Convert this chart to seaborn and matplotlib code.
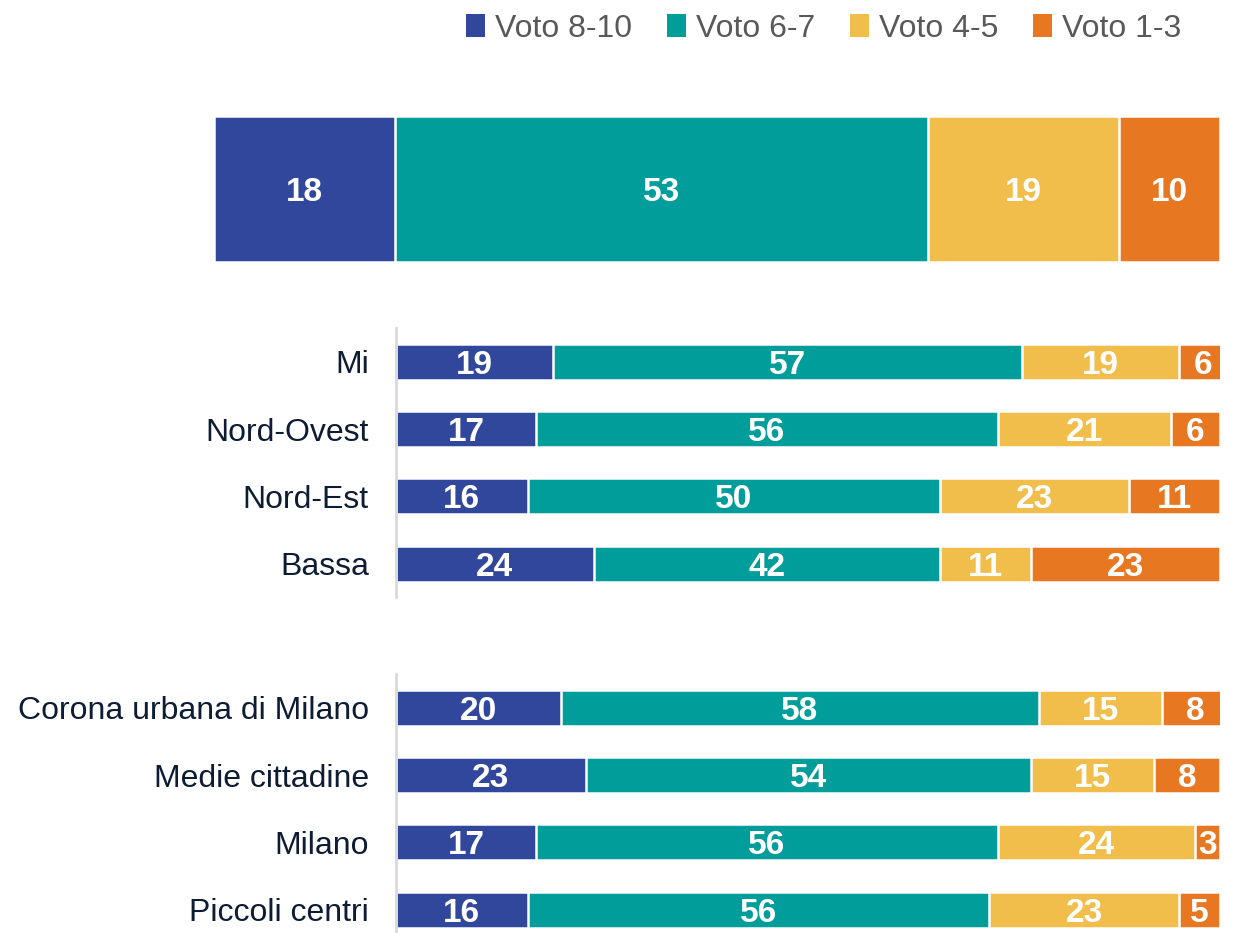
import matplotlib
matplotlib.use("Agg")
import matplotlib.pyplot as plt
import pandas as pd
import seaborn as sns
from matplotlib.patches import Patch

# Series and colours
series = ["Voto 8-10", "Voto 6-7", "Voto 4-5", "Voto 1-3"]
colors = ["#31479B", "#009D9A", "#F1BE4B", "#E87722"]

# Overall distribution
total_cats = ["Totale"]
total_8_10 = [18]
total_6_7 = [53]
total_4_5 = [19]
total_1_3 = [10]

# By area
area_cats = ["Mi", "Nord-Ovest", "Nord-Est", "Bassa"]
area_8_10 = [19, 17, 16, 24]
area_6_7 = [57, 56, 50, 42]
area_4_5 = [19, 21, 23, 11]
area_1_3 = [6, 6, 11, 23]

# By municipality size
size_cats = ["Corona urbana di Milano", "Medie cittadine", "Milano", "Piccoli centri"]
size_8_10 = [20, 23, 17, 16]
size_6_7 = [58, 54, 56, 56]
size_4_5 = [15, 15, 24, 23]
size_1_3 = [8, 8, 3, 5]

sns.set_style("white")
plt.rcParams["font.family"] = ["Liberation Sans", "DejaVu Sans"]

LABEL_COLOR = "#0D1B33"
FS = 23


def stacked(ax, cats, cols, width):
    df = pd.DataFrame(dict(zip(series, cols)), index=cats)
    cum = df.cumsum(axis=1)
    # draw cumulative totals from the longest to the shortest
    for i in reversed(range(len(series))):
        sns.barplot(x=cum.iloc[:, i].values, y=cats, order=cats, orient="h",
                    color=colors[i], saturation=1, width=width,
                    edgecolor="white", linewidth=1.8, ax=ax)
    for j, cat in enumerate(cats):
        for i in range(len(series)):
            v = df.iloc[j, i]
            c = cum.iloc[j, i] - v / 2
            ax.text(c, j, f"{v}", ha="center", va="center_baseline",
                    color="white", fontsize=FS + 1, fontweight="bold")
    ax.set_xlim(0, 100)
    ax.set_xticks([])
    ax.set_xlabel("")
    ax.set_ylabel("")
    for s in ["top", "right", "bottom"]:
        ax.spines[s].set_visible(False)
    ax.spines["left"].set_color("#D9D9D9")
    ax.spines["left"].set_linewidth(2)
    ax.tick_params(axis="y", left=False, labelsize=FS, pad=16,
                   labelcolor=LABEL_COLOR)


fig = plt.figure(figsize=(12.41, 9.33), dpi=100)

ax_top = fig.add_axes([0.1724, 0.7192, 0.8106, 0.1565])
stacked(ax_top, total_cats, [total_8_10, total_6_7, total_4_5, total_1_3], 1.0)
ax_top.set_ylim(0.5, -0.5)
ax_top.set_yticks([])
ax_top.spines["left"].set_visible(False)

ax_mid = fig.add_axes([0.3191, 0.3596, 0.6640, 0.2888])
stacked(ax_mid, area_cats, [area_8_10, area_6_7, area_4_5, area_1_3], 0.535)
ax_mid.set_ylim(3.5, -0.5)

ax_bot = fig.add_axes([0.3191, -0.011, 0.6640, 0.2882])
stacked(ax_bot, size_cats, [size_8_10, size_6_7, size_4_5, size_1_3], 0.535)
ax_bot.set_ylim(3.5, -0.5)

handles = [Patch(facecolor=c, edgecolor="none") for c in colors]
fig.legend(handles, series, loc="upper right", bbox_to_anchor=(0.975, 1.016),
           ncol=4, frameon=False, fontsize=FS, labelcolor="#595959",
           handlelength=0.6, handleheight=0.7, handletextpad=0.3,
           columnspacing=1.1)

fig.savefig("out.png", dpi=100)
